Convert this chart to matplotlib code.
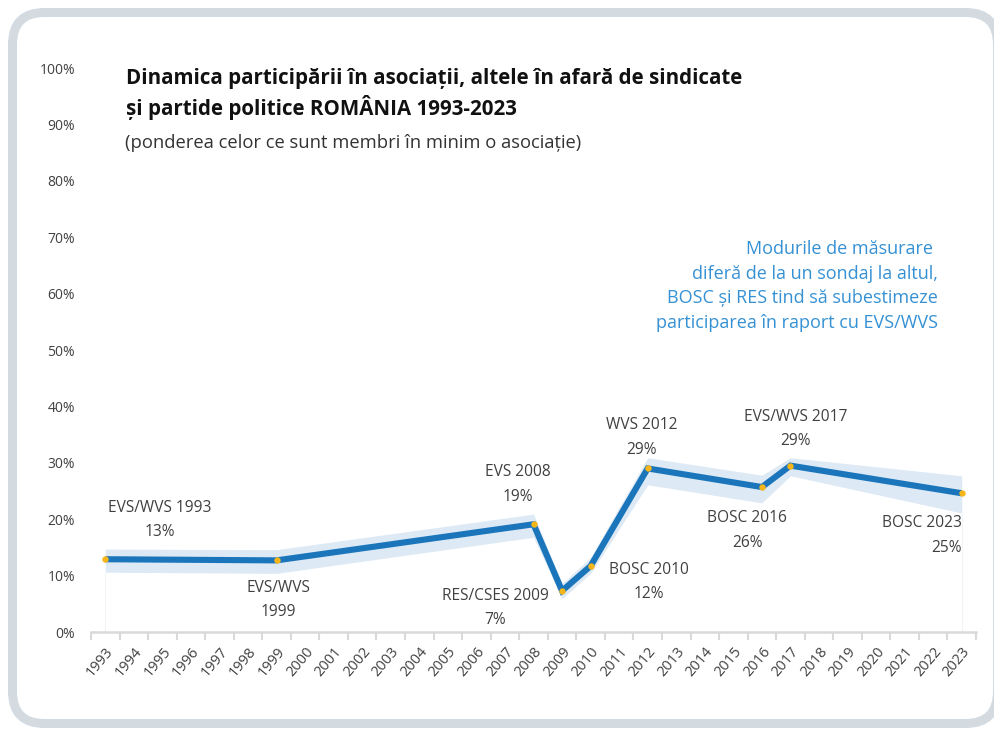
import matplotlib
matplotlib.use("Agg")
import matplotlib.pyplot as plt
from matplotlib.patches import FancyBboxPatch
import numpy as np

plt.rcParams['font.family'] = ['Open Sans', 'DejaVu Sans']

# ---- data ----
years_all = list(range(1993, 2024))
survey_years = [1993, 1999, 2008, 2009, 2010, 2012, 2016, 2017, 2023]
values = [12.9, 12.7, 19.1, 7.3, 11.7, 29.0, 25.7, 29.5, 24.6]
band_upper = [14.7, 14.6, 20.9, 8.6, 13.2, 30.9, 27.8, 30.9, 27.7]
band_lower = [10.6, 10.4, 16.8, 5.9, 10.4, 26.1, 22.9, 27.7, 21.1]
point_labels = ["EVS/WVS 1993\n13%", "EVS/WVS\n1999", "EVS 2008\n19%",
                "RES/CSES 2009\n7%", "BOSC 2010\n12%", "WVS 2012\n29%",
                "BOSC 2016\n26%", "EVS/WVS 2017\n29%", "BOSC 2023\n25%"]
y_ticks = [0, 10, 20, 30, 40, 50, 60, 70, 80, 90, 100]
y_tick_labels = [f"{v}%" for v in y_ticks]

title_text = ("Dinamica participării în asociații, altele în afară de sindicate\n"
              "și partide politice ROMÂNIA 1993-2023")
subtitle_text = "(ponderea celor ce sunt membri în minim o asociație)"
note_text = ("Modurile de măsurare \ndiferă de la un sondaj la altul,\n"
             "BOSC și RES tind să subestimeze\nparticiparea în raport cu EVS/WVS")

W, H = 994, 729
fig = plt.figure(figsize=(W / 100, H / 100), dpi=100)

# background frame (pixel coordinates)
bg = fig.add_axes([0, 0, 1, 1])
bg.set_xlim(0, W)
bg.set_ylim(H, 0)
bg.axis('off')
frame = FancyBboxPatch((12.5, 12.5), 985, 711, boxstyle="round,pad=0,rounding_size=32",
                       linewidth=6.5, edgecolor='#d3dbe1', facecolor='white', zorder=0)
bg.add_patch(frame)

# main axes
left = 91 / W
right = 976 / W
bottom = (H - 632) / H
top = (H - 68) / H
ax = fig.add_axes([left, bottom, right - left, top - bottom])
ax.patch.set_alpha(0)

line_color = '#1a75bb'
band_color = '#dde9f5'
text_color = '#404040'

ax.fill_between(survey_years, band_lower, band_upper, color=band_color, lw=0, zorder=1)
ax.vlines([survey_years[0], survey_years[-1]], 0, [band_lower[0], band_lower[-1]],
          color='#f0f4f9', lw=0.8, zorder=1)
ax.plot(survey_years, values, color=line_color, lw=4.4, solid_joinstyle='miter',
        solid_capstyle='butt', zorder=2)
ax.plot(survey_years, values, 'o', color='#f6b619', ms=4.6, mec='none', zorder=3)

# point label positions: (x in years, y in %, ha)
label_pos = [(1994.92, 19.9, 'center'), (1999.05, 5.7, 'center'), (2007.46, 26.15, 'center'),
             (2006.65, 4.2, 'center'), (2012.05, 8.8, 'center'), (2011.8, 34.5, 'center'),
             (2015.48, 18.0, 'center'), (2017.19, 36.0, 'center'), (2023.0, 17.1, 'right')]
for (x, y, ha), txt in zip(label_pos, point_labels):
    ax.text(x, y, txt, ha=ha, va='center', fontsize=11.2, color=text_color,
            linespacing=1.68, zorder=4)

ax.set_xlim(1992.5, 2023.5)
ax.set_ylim(0, 100)

ax.set_xticks(years_all)
ax.set_xticklabels([str(y) for y in years_all], rotation=50, ha='right',
                   rotation_mode='anchor', fontsize=10.5, color=text_color)
ax.set_xticks(np.arange(1992.5, 2024.0, 1.0), minor=True)
ax.tick_params(axis='x', which='major', length=0, pad=9)
ax.tick_params(axis='x', which='minor', length=6, width=1.5, color='#d9d9d9')

ax.set_yticks(y_ticks)
ax.set_yticklabels(y_tick_labels, fontsize=10, color=text_color)
ax.tick_params(axis='y', length=0, pad=11.5)

for s in ['top', 'right', 'left']:
    ax.spines[s].set_visible(False)
ax.spines['bottom'].set_color('#d9d9d9')
ax.spines['bottom'].set_linewidth(1.8)

# titles
fig.text(126 / W, 1 - 68 / H, title_text, ha='left', va='top', fontsize=14.8,
         fontweight='bold', color='#111111', linespacing=1.3)
fig.text(125 / W, 1 - 143 / H, subtitle_text, ha='left', va='center', fontsize=13.2,
         color='#333333')
fig.text(938 / W, 1 - 286 / H, note_text, ha='right', va='center', fontsize=13,
         color='#3591d4', linespacing=1.47)

fig.savefig('out.png', dpi=100)
